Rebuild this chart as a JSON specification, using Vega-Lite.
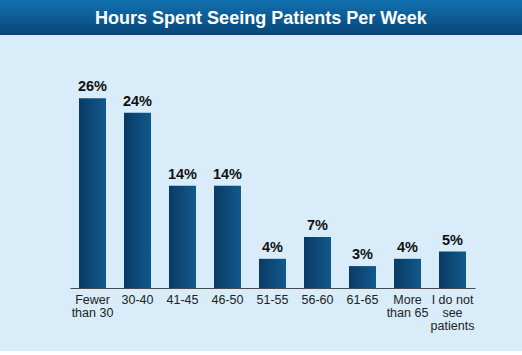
{
  "$schema": "https://vega.github.io/schema/vega-lite/v6.json",
  "background": "#d8edf9",
  "padding": {"left": 0, "top": 0, "right": 0, "bottom": 19},
  "spacing": 34,
  "config": {"view": {"stroke": null}},
  "vconcat": [
    {
      "width": 522,
      "height": 35,
      "view": {"stroke": null, "fill": {"gradient": "linear", "x1": 0, "y1": 0, "x2": 0, "y2": 1, "stops": [{"offset": 0, "color": "#1171b0"}, {"offset": 1, "color": "#0a4677"}]}},
      "data": {"values": [{"title": "Hours Spent Seeing Patients Per Week"}]},
      "mark": {"type": "text", "font": "Liberation Sans", "fontWeight": "bold", "fontSize": 18, "color": "#ffffff", "baseline": "middle", "align": "center", "dy": 1},
      "encoding": {"text": {"field": "title"}}
    },
    {
      "width": 522,
      "height": 219,
      "data": {"values": [
        {"hours": "Fewer\nthan 30", "pct": 0.26},
        {"hours": "30-40", "pct": 0.24},
        {"hours": "41-45", "pct": 0.14},
        {"hours": "46-50", "pct": 0.14},
        {"hours": "51-55", "pct": 0.04},
        {"hours": "56-60", "pct": 0.07},
        {"hours": "61-65", "pct": 0.03},
        {"hours": "More\nthan 65", "pct": 0.04},
        {"hours": "I do not\nsee\npatients", "pct": 0.05}
      ]},
      "encoding": {
        "x": {"field": "hours", "type": "nominal", "sort": null,
              "scale": {"range": [70, 475], "paddingInner": 0.4, "paddingOuter": 0.2},
              "axis": {"title": null, "labelAngle": 0, "ticks": false, "domainColor": "#4a4a4a", "domainWidth": 1,
                       "labelFont": "Liberation Sans", "labelFontSize": 12.5,
                       "labelColor": "#222222", "labelPadding": 5, "labelLineHeight": 13,
                       "labelExpr": "split(datum.label, '\\n')"}},
        "y": {"field": "pct", "type": "quantitative", "scale": {"domain": [0, 0.30], "nice": false}, "axis": null}
      },
      "layer": [
        {"mark": {"type": "bar", "color": {"gradient": "linear", "x1": 0, "y1": 0, "x2": 1, "y2": 0, "stops": [{"offset": 0, "color": "#0a3a66"}, {"offset": 1, "color": "#115a8c"}]}}},
        {"mark": {"type": "text", "baseline": "bottom", "dy": -4, "font": "Liberation Sans", "fontWeight": "bold", "fontSize": 14.5, "color": "#111111"},
         "encoding": {"text": {"field": "pct", "type": "quantitative", "format": ".0%"}}}
      ]
    }
  ]
}
